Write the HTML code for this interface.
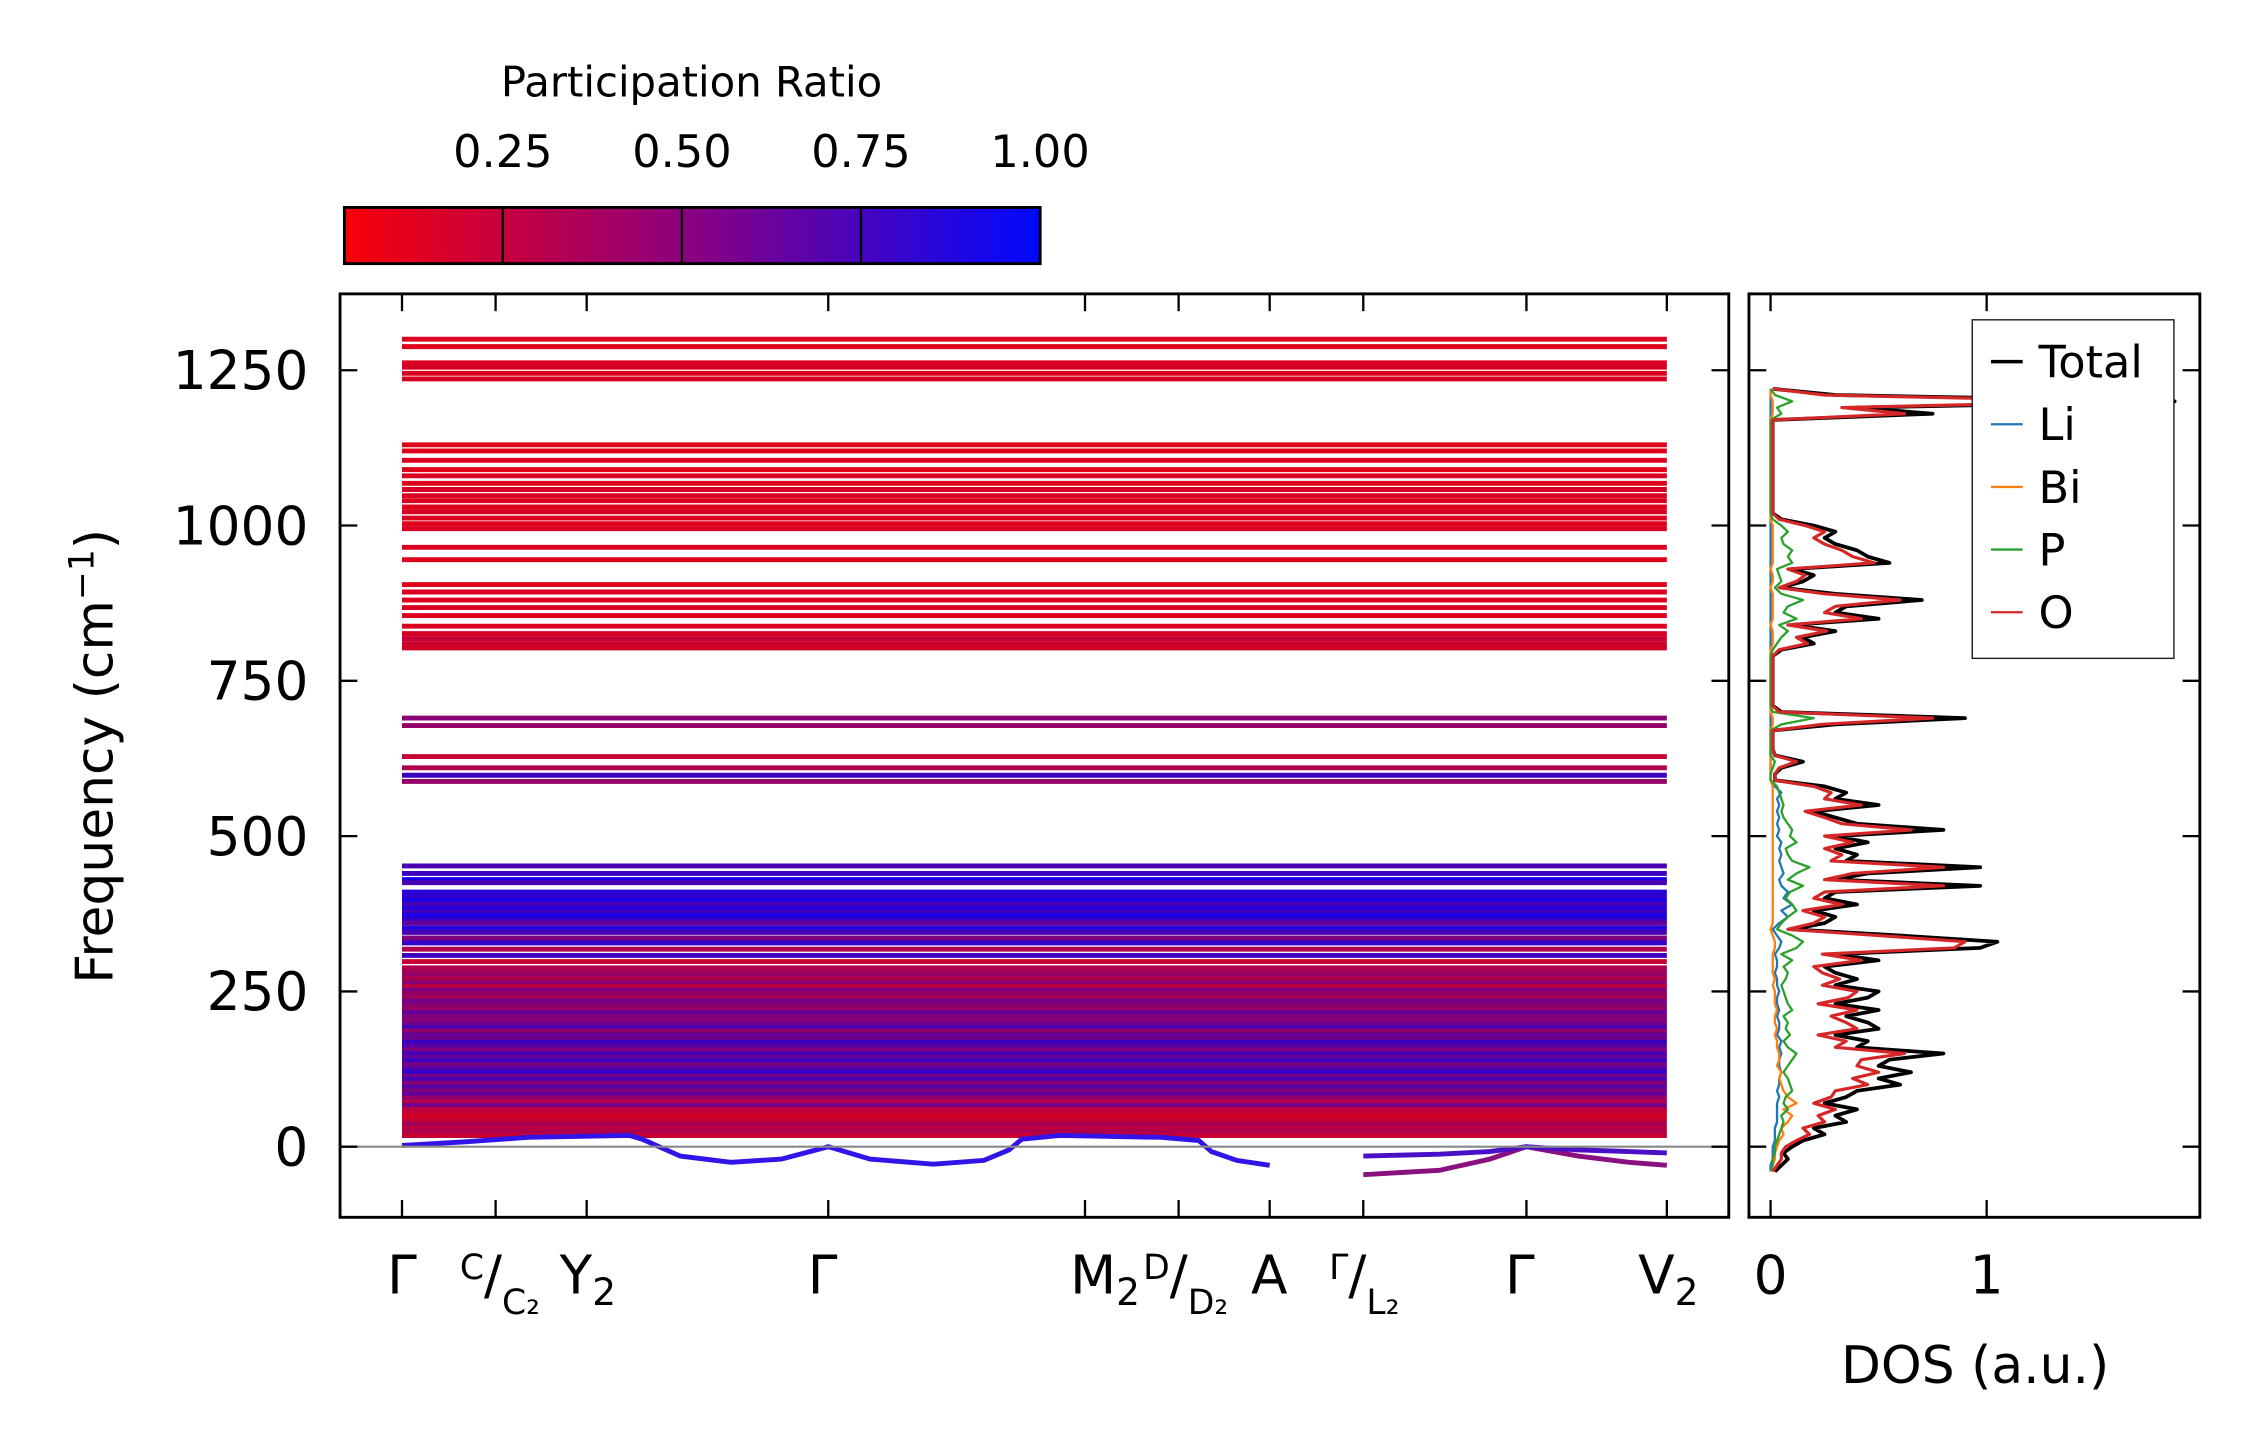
<!DOCTYPE html>
<html><head><meta charset="utf-8"><style>
html,body{margin:0;padding:0;background:#fff}
svg{display:block}
text{font-family:"DejaVu Sans","Liberation Sans",sans-serif;fill:#000}
</style></head><body>
<svg id="fig" width="2259" height="1455" viewBox="0 0 1568 1010" xmlns="http://www.w3.org/2000/svg">
<defs>
<linearGradient id="cbg" x1="0" x2="1" y1="0" y2="0">
<stop offset="0" stop-color="#f80008"/><stop offset="0.5" stop-color="#8a0080"/><stop offset="1" stop-color="#0008ff"/>
</linearGradient>
<clipPath id="mainclip"><rect x="236" y="204" width="964" height="641"/></clipPath>
<clipPath id="dosclip"><rect x="1214" y="204" width="313" height="641"/></clipPath>
</defs>
<g id="colorbar">
<text x="480" y="67" font-size="29" text-anchor="middle">Participation Ratio</text>
<rect x="239" y="144" width="483" height="39" fill="url(#cbg)" stroke="#000" stroke-width="2"/>
</g>
<g id="bands" clip-path="url(#mainclip)"></g>
<line x1="236" x2="1200" y1="796" y2="796" stroke="#888" stroke-width="1.5"/>
<g id="dos" clip-path="url(#dosclip)"></g>
<g id="axes"></g>
<g id="legend">
<rect x="1369" y="222" width="140" height="235" fill="#fff" stroke="#222" stroke-width="1"/>
</g>
</svg>
<script>
// ---------- data ----------
const kTicks = [0,0.074,0.146,0.337,0.540,0.614,0.686,0.760,0.889,1.0];
const yTicks = [0,250,500,750,1000,1250];
const cbTicks = [0.25,0.50,0.75,1.00];
const bandFreqs = [1300,1288,1262,1255,1245,1236,1130,1120,1105,1090,1080,1068,1058,1048,1040,1030,1022,1012,1003,995,965,945,905,893,880,868,855,838,826,818,810,803,
 690,678,628,610,598,588,
 452,440,430,425,410,402,396,390,384,378,372,366,360,352,345,336,328,318,308,298,288,282,276,270,264,258,252,246,240,234,228,222,216,210,204,198,192,186,180,174,168,162,156,150,144,138,132,126,120,114,108,102,96,90,84,78,72,66,60,54,48,42,36,30,24,18];
const bandPR = [0.12,0.10,0.12,0.14,0.12,0.14,0.10,0.10,0.12,0.10,0.12,0.10,0.14,0.12,0.12,0.10,0.14,0.12,0.10,0.12,0.12,0.10,0.10,0.12,0.10,0.12,0.10,0.12,0.14,0.20,0.18,0.16,
 0.45,0.40,0.20,0.30,0.75,0.40,
 0.70,0.75,0.90,0.70,0.85,0.80,0.90,0.70,0.85,0.75,0.90,0.80,0.60,0.85,0.70,0.50,0.80,0.30,0.75,0.20,0.30,0.35,0.40,0.30,0.45,0.25,0.50,0.40,0.35,0.55,0.45,0.40,0.60,0.50,0.45,0.55,0.70,0.40,0.60,0.55,0.75,0.65,0.50,0.70,0.60,0.75,0.50,0.65,0.80,0.55,0.70,0.45,0.65,0.50,0.60,0.40,0.30,0.55,0.25,0.20,0.15,0.20,0.35,0.25,0.30,0.20];
const acK = [0.0,0.05,0.10,0.18,0.19,0.22,0.26,0.30,0.337,0.37,0.42,0.46,0.48,0.49,0.52,0.60,0.63,0.64,0.66,0.686];
const acF = [2,8,15,18,12,-15,-25,-20,0,-20,-28,-22,-5,12,18,15,10,-8,-22,-30];
const acK2 = [0.76,0.82,0.86,0.889,0.93,0.97,1.0];
const acF2 = [-45,-38,-20,0,-15,-25,-30];
const acF3 = [-15,-12,-8,0,-5,-8,-10];
const dosFreq = [-40,-30,-20,-10,0,10,20,30,40,50,60,70,80,90,100,110,120,130,140,150,160,170,180,190,200,210,220,230,240,250,260,270,280,290,300,310,320,330,340,350,360,370,380,390,400,410,420,430,440,450,460,470,480,490,500,510,520,530,540,550,560,570,580,590,600,610,620,630,640,650,660,670,680,690,700,710,720,730,740,750,760,770,780,790,800,810,820,830,840,850,860,870,880,890,900,910,920,930,940,950,960,970,980,990,1000,1010,1020,1030,1040,1050,1060,1070,1080,1090,1100,1110,1120,1130,1140,1150,1160,1170,1180,1190,1200,1210,1220];
const dosTotal = [0.02,0.05,0.08,0.06,0.10,0.15,0.25,0.20,0.35,0.30,0.40,0.25,0.35,0.40,0.60,0.50,0.65,0.50,0.55,0.80,0.40,0.45,0.30,0.50,0.45,0.35,0.50,0.30,0.45,0.50,0.30,0.40,0.30,0.25,0.50,0.30,0.97,1.05,0.60,0.10,0.25,0.30,0.20,0.40,0.25,0.30,0.97,0.30,0.45,0.97,0.35,0.40,0.30,0.45,0.30,0.80,0.40,0.30,0.20,0.50,0.30,0.35,0.25,0.02,0.02,0.05,0.15,0.02,0.01,0.01,0.01,0.01,0.30,0.90,0.05,0.01,0.01,0.01,0.01,0.01,0.01,0.01,0.01,0.01,0.05,0.20,0.15,0.30,0.10,0.50,0.30,0.35,0.70,0.30,0.05,0.15,0.20,0.10,0.55,0.45,0.40,0.30,0.25,0.30,0.20,0.05,0.01,0.01,0.01,0.01,0.01,0.01,0.01,0.01,0.01,0.01,0.01,0.01,0.01,0.01,0.01,0.01,0.75,0.40,1.87,0.30,0.01];
const dosO = [0.01,0.03,0.05,0.05,0.07,0.12,0.18,0.15,0.25,0.22,0.30,0.20,0.28,0.30,0.45,0.38,0.50,0.40,0.42,0.62,0.30,0.35,0.22,0.40,0.35,0.28,0.40,0.22,0.36,0.40,0.24,0.32,0.24,0.20,0.42,0.24,0.85,0.90,0.50,0.08,0.20,0.25,0.15,0.33,0.20,0.25,0.80,0.25,0.38,0.80,0.28,0.33,0.25,0.38,0.25,0.65,0.33,0.25,0.16,0.42,0.25,0.28,0.20,0.02,0.02,0.04,0.12,0.02,0.01,0.01,0.01,0.01,0.24,0.75,0.04,0.01,0.01,0.01,0.01,0.01,0.01,0.01,0.01,0.01,0.04,0.17,0.12,0.26,0.08,0.42,0.25,0.30,0.60,0.25,0.04,0.12,0.16,0.08,0.48,0.38,0.33,0.25,0.20,0.25,0.16,0.04,0.01,0.01,0.01,0.01,0.01,0.01,0.01,0.01,0.01,0.01,0.01,0.01,0.01,0.01,0.01,0.01,0.62,0.33,1.60,0.25,0.01];
const dosP = [0.00,0.01,0.01,0.02,0.02,0.03,0.04,0.05,0.06,0.05,0.08,0.06,0.07,0.10,0.09,0.08,0.06,0.08,0.10,0.12,0.08,0.06,0.09,0.07,0.08,0.06,0.10,0.08,0.07,0.06,0.05,0.07,0.08,0.06,0.10,0.05,0.12,0.15,0.10,0.03,0.05,0.08,0.12,0.10,0.07,0.09,0.15,0.08,0.12,0.18,0.10,0.08,0.07,0.12,0.09,0.10,0.08,0.06,0.05,0.06,0.05,0.04,0.03,0.00,0.00,0.01,0.02,0.00,0.00,0.00,0.00,0.00,0.05,0.20,0.01,0.00,0.00,0.00,0.00,0.00,0.00,0.00,0.00,0.00,0.01,0.03,0.05,0.08,0.04,0.12,0.06,0.08,0.15,0.05,0.02,0.05,0.04,0.03,0.10,0.08,0.10,0.06,0.05,0.08,0.05,0.01,0.00,0.00,0.00,0.00,0.00,0.00,0.00,0.00,0.00,0.00,0.00,0.00,0.00,0.00,0.00,0.00,0.05,0.03,0.10,0.02,0.00];
const dosBi = [0.00,0.01,0.02,0.02,0.03,0.04,0.06,0.05,0.08,0.10,0.06,0.12,0.08,0.06,0.05,0.04,0.05,0.03,0.04,0.04,0.03,0.03,0.02,0.03,0.02,0.02,0.03,0.02,0.02,0.02,0.01,0.02,0.01,0.01,0.01,0.01,0.02,0.02,0.01,0.00,0.01,0.01,0.01,0.01,0.01,0.01,0.01,0.01,0.01,0.01,0.01,0.01,0.01,0.01,0.01,0.01,0.01,0.01,0.01,0.01,0.01,0.01,0.01,0.00,0.00,0.00,0.00,0.00,0.00,0.00,0.00,0.00,0.01,0.01,0.00,0.00,0.00,0.00,0.00,0.00,0.00,0.00,0.00,0.00,0.00,0.01,0.01,0.01,0.00,0.01,0.01,0.01,0.01,0.01,0.00,0.01,0.01,0.00,0.01,0.01,0.01,0.01,0.01,0.01,0.01,0.00,0.00,0.00,0.00,0.00,0.00,0.00,0.00,0.00,0.00,0.00,0.00,0.00,0.00,0.00,0.00,0.00,0.01,0.01,0.01,0.00,0.00];
const dosLi = [0.00,0.00,0.01,0.01,0.01,0.02,0.02,0.02,0.03,0.03,0.03,0.03,0.04,0.03,0.04,0.04,0.05,0.04,0.04,0.05,0.04,0.05,0.03,0.04,0.04,0.03,0.04,0.03,0.03,0.04,0.03,0.03,0.02,0.03,0.03,0.02,0.04,0.05,0.03,0.01,0.04,0.08,0.05,0.10,0.06,0.08,0.05,0.04,0.06,0.05,0.04,0.05,0.04,0.05,0.03,0.04,0.03,0.04,0.03,0.04,0.03,0.05,0.02,0.00,0.00,0.00,0.00,0.00,0.00,0.00,0.00,0.00,0.00,0.00,0.00,0.00,0.00,0.00,0.00,0.00,0.00,0.00,0.00,0.00,0.00,0.00,0.00,0.00,0.00,0.00,0.00,0.00,0.00,0.00,0.00,0.00,0.00,0.00,0.00,0.00,0.00,0.00,0.00,0.00,0.00,0.00,0.00,0.00,0.00,0.00,0.00,0.00,0.00,0.00,0.00,0.00,0.00,0.00,0.00,0.00,0.00,0.00,0.00,0.00,0.00,0.00,0.00];
const legendNames = ["Total","Li","Bi","P","O"];
const legendColors = ["#000000","#1f77b4","#ff7f0e","#2ca02c","#d62728"];

// ---------- scales ----------
const NS="http://www.w3.org/2000/svg";
const yF = f => 796 - (f/250)*107.8;
const xK = k => 279 + k*(1157-279);
const xD = v => 1229 + v*150;
const xCB = v => 349 + (v-0.25)*(124.3/0.25);
function col(p){if(p===undefined)p=0.5;const r=Math.round(248*(1-p)),b=Math.round(255*p);return `rgb(${r},0,${b})`;}
function mk(tag,attrs,parent){const e=document.createElementNS(NS,tag);for(const k in attrs)e.setAttribute(k,attrs[k]);parent.appendChild(e);return e;}

// bands
const gB=document.getElementById('bands');
bandFreqs.forEach((f,i)=>{
  const l=mk('line',{x1:xK(0),x2:xK(1),y1:yF(f),y2:yF(f),stroke:col(bandPR[i]),'stroke-width':3.4},gB);
  
  
});
function pathFrom(xs,ys){return xs.map((x,i)=>(i?'L':'M')+x.toFixed(1)+','+ys[i].toFixed(1)).join(' ');}
[[acK,acF,'#3014e8'],[acK2,acF2,'#8a1080'],[acK2,acF3,'#4a10c8']].forEach(([ks,fs,c])=>{
  const p=mk('path',{d:pathFrom(ks.map(xK),fs.map(yF)),fill:'none',stroke:c,'stroke-width':3.4},gB);
  
  
});

// DOS
const gD=document.getElementById('dos');
[[dosTotal,'#000',2.6],[dosLi,'#1f77b4',1.6],[dosBi,'#ff7f0e',1.6],[dosP,'#2ca02c',1.6],[dosO,'#d62728',2.2]].forEach(([vals,c,w],j)=>{
  const p=mk('path',{d:pathFrom(vals.map(xD),dosFreq.map(yF)),fill:'none',stroke:c,'stroke-width':w,'stroke-linejoin':'round'},gD);
  
  
});

// axes
const gA=document.getElementById('axes');
const fr1=mk('rect',{x:236,y:204,width:964,height:641,fill:'none',stroke:'#000','stroke-width':2},gA);


const fr2=mk('rect',{x:1214,y:204,width:313,height:641,fill:'none',stroke:'#000','stroke-width':2},gA);


yTicks.forEach(v=>{
  const y=yF(v);
  [[236,248],[1188,1200],[1214,1226],[1515,1527]].forEach(([a,b])=>mk('line',{x1:a,x2:b,y1:y,y2:y,stroke:'#000','stroke-width':1.6},gA));
  const t=mk('text',{x:214,y:y+13,'font-size':37,'text-anchor':'end'},gA);
  t.textContent=v;
  
  
});
kTicks.forEach(k=>{
  const x=xK(k);
  mk('line',{x1:x,x2:x,y1:204,y2:216,stroke:'#000','stroke-width':1.6},gA);
  mk('line',{x1:x,x2:x,y1:833,y2:845,stroke:'#000','stroke-width':1.6},gA);
});
const kl=[[279,'Γ'],[408,'Y<tspan font-size="26" dy="8">2</tspan>'],[571,'Γ'],[1055,'Γ'],[1158,'V<tspan font-size="26" dy="8">2</tspan>'],[881,'A'],[767,'M<tspan font-size="26" dy="8">2</tspan>']];
kl.forEach(([x,h])=>{
  const t=mk('text',{x:x,y:898,'font-size':37,'text-anchor':'middle'},gA);
  t.innerHTML=h;
  
  
});
[[347,'C','C₂'],[823,'D','D₂'],[947,'Γ','L₂']].forEach(([x,a,b])=>{
  const t=mk('text',{x:x,y:898,'font-size':37,'text-anchor':'middle'},gA);
  t.innerHTML=`<tspan font-size="24" dy="-10">${a}</tspan><tspan dy="10">/</tspan><tspan font-size="24" dy="14">${b}</tspan>`;
  
  
});
[0,1].forEach(v=>{
  const x=xD(v);
  mk('line',{x1:x,x2:x,y1:204,y2:216,stroke:'#000','stroke-width':1.6},gA);
  mk('line',{x1:x,x2:x,y1:833,y2:845,stroke:'#000','stroke-width':1.6},gA);
  const t=mk('text',{x:x,y:898,'font-size':37,'text-anchor':'middle'},gA);
  t.textContent=v;
  
  
});
const yl=mk('text',{x:0,y:0,'font-size':36,'text-anchor':'middle',transform:'translate(78,525) rotate(-90)'},gA);
yl.innerHTML='Frequency (cm<tspan font-size="24" dy="-13">−1</tspan><tspan dy="13">)</tspan>';


const xl=mk('text',{x:1371,y:960,'font-size':36,'text-anchor':'middle'},gA);
xl.textContent='DOS (a.u.)';


// colorbar ticks
const gC=document.getElementById('colorbar');
cbTicks.forEach(v=>{
  const x=xCB(v);
  mk('line',{x1:x,x2:x,y1:144,y2:183,stroke:'#000','stroke-width':1.6},gC);
  const t=mk('text',{x:x,y:116,'font-size':31,'text-anchor':'middle'},gC);
  t.textContent=v.toFixed(2);
  
  
});
// legend
const gL=document.getElementById('legend');
legendNames.forEach((n,i)=>{
  const y=251+i*43.5;
  mk('line',{x1:1382,x2:1404,y1:y,y2:y,stroke:legendColors[i],'stroke-width':i?1.6:2.4},gL);
  const t=mk('text',{x:1415,y:y+11,'font-size':31},gL);
  t.textContent=n;
  
  
});
</script>
</body></html>
